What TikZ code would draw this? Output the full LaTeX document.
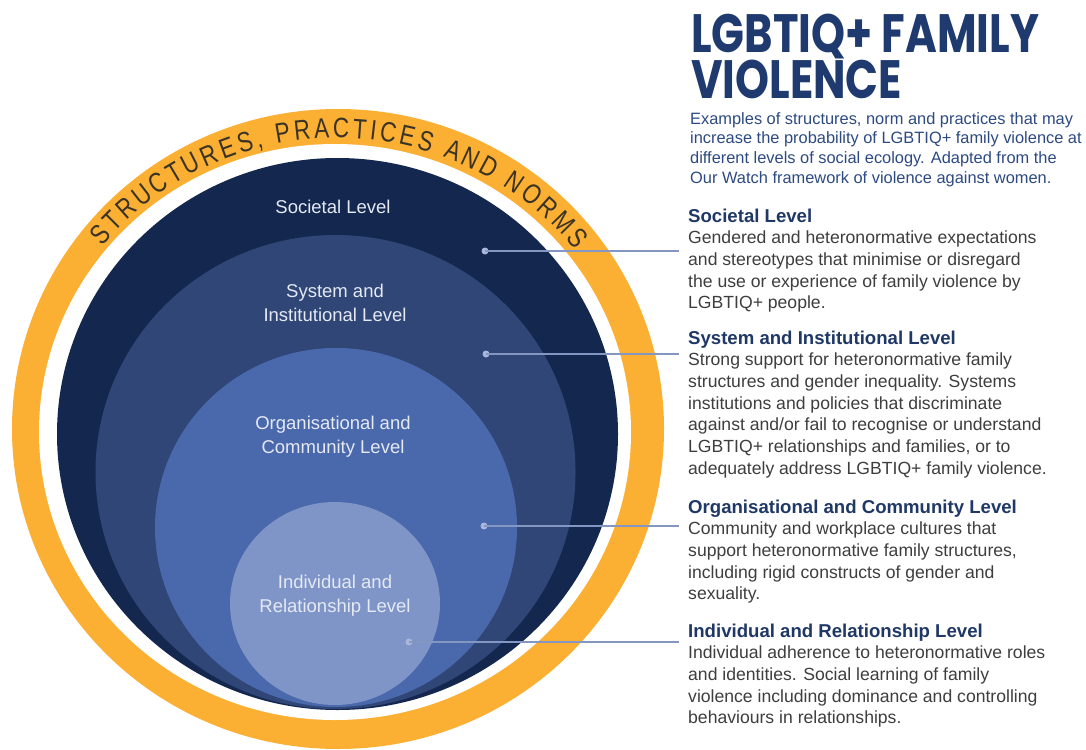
\documentclass[tikz,border=0pt]{standalone}
\usepackage{fontspec}
\setmainfont{Liberation Sans}
\newfontfamily\titlefont{Poppins}
\newfontfamily\ringfont{Liberation Sans}[FakeStretch=0.8]
\usetikzlibrary{decorations.text}
\definecolor{ringc}{HTML}{FBB034}
\definecolor{socc}{HTML}{14284F}
\definecolor{sysc}{HTML}{304676}
\definecolor{orgc}{HTML}{4A68AC}
\definecolor{indc}{HTML}{7F95C8}
\definecolor{lvltext}{HTML}{E4E9F4}
\definecolor{connc}{HTML}{8496C2}
\definecolor{dotc}{HTML}{A9B7DA}
\definecolor{titlec}{HTML}{1E3A6E}
\definecolor{subc}{HTML}{2D4A82}
\definecolor{hdrc}{HTML}{1F3866}
\definecolor{bodyc}{HTML}{3E3E3E}
\definecolor{ringtext}{HTML}{3A3326}
\tikzset{
  lvl/.style={text=lvltext, align=center, inner sep=0pt, font=\fontsize{18.5}{24}\selectfont},
  sect/.style={anchor=north west, align=left, inner sep=0pt, text=bodyc, font=\fontsize{17.6}{21.7}\selectfont},
  dotn/.style={circle, fill=dotc, inner sep=0pt, minimum size=7pt},
  conn/.style={draw=connc, line width=1.6pt},
}
\newcommand{\hdr}[1]{{\fontsize{18.6}{21.7}\selectfont\bfseries\color{hdrc}#1}}
\begin{document}
\begin{tikzpicture}[x=1pt,y=-1pt]
\fill[white] (0,0) rectangle (1086,749);
\useasboundingbox (0,0) rectangle (1086,749);
% rings
\fill[ringc] (338,429) ellipse [x radius=326, y radius=320];
\fill[white] (335,432) ellipse [x radius=296, y radius=288];
\fill[socc] (337.5,434) ellipse [x radius=280.5, y radius=276];
\fill[sysc] (335.5,472) ellipse [x radius=240, y radius=237];
\fill[orgc] (336,527.5) ellipse [x radius=181, y radius=179.5];
\fill[indc] (335,603.5) ellipse [x radius=105, y radius=101.5];
% curved text
\path[decorate, decoration={text along path, text align={fit to path},
  text={|\ringfont\fontsize{28}{30}\selectfont\color{ringtext}|STRUCTURES, PRACTICES AND NORMS}}]
  (337,430) ++(219:302 and 292) arc[start angle=219, end angle=322, x radius=302, y radius=292];
% level labels
\node[lvl] (lsoc) at (333,207) {Societal Level};
\node[lvl] (lsys) at (335,303) {System and\\Institutional Level};
\node[lvl] (lorg) at (333,437) {Organisational and\\Community Level};
\node[lvl] (lind) at (335,596) {Individual and\\Relationship Level};
% title
\node[anchor=north west, inner sep=0pt, text=titlec, align=left,
  font=\titlefont\bfseries\fontsize{54}{44}\selectfont] (title) at (691,14)
  {\scalebox{0.8}[1]{LGBTIQ+ FAMILY}\\\scalebox{0.8}[1]{VIOLENCE}};
\node[anchor=north west, inner sep=0pt, text=subc, align=left,
  font=\fontsize{16.4}{19.8}\selectfont] (sub) at (690,112)
  {Examples of structures, norm and practices that may\\
   increase the probability of LGBTIQ+ family violence at\\
   different levels of social ecology. Adapted from the\\
   Our Watch framework of violence against women.};
% sections
\node[sect] (tsoc) at (688,208.5) {\hdr{Societal Level}\\
  Gendered and heteronormative expectations\\
  and stereotypes that minimise or disregard\\
  the use or experience of family violence by\\
  LGBTIQ+ people.};
\node[sect] (tsys) at (688,330.5) {\hdr{System and Institutional Level}\\
  Strong support for heteronormative family\\
  structures and gender inequality. Systems\\
  institutions and policies that discriminate\\
  against and/or fail to recognise or understand\\
  LGBTIQ+ relationships and families, or to\\
  adequately address LGBTIQ+ family violence.};
\node[sect] (torg) at (688,499.5) {\hdr{Organisational and Community Level}\\
  Community and workplace cultures that\\
  support heteronormative family structures,\\
  including rigid constructs of gender and\\
  sexuality.};
\node[sect] (tind) at (688,623.5) {\hdr{Individual and Relationship Level}\\
  Individual adherence to heteronormative roles\\
  and identities. Social learning of family\\
  violence including dominance and controlling\\
  behaviours in relationships.};
% connectors
\node[dotn] (dsoc) at (485,251) {};
\node[dotn] (dsys) at (486,354) {};
\node[dotn] (dorg) at (484,526) {};
\node[dotn] (dind) at (409,642) {};
\coordinate (esoc) at (679,251);
\coordinate (esys) at (679,354);
\coordinate (eorg) at (679,526);
\coordinate (eind) at (679,642);
\draw[conn] (dsoc.center) -- (esoc);
\draw[conn] (dsys.center) -- (esys);
\draw[conn] (dorg.center) -- (eorg);
\draw[conn] (dind.center) -- (eind);
\end{tikzpicture}
\end{document}
